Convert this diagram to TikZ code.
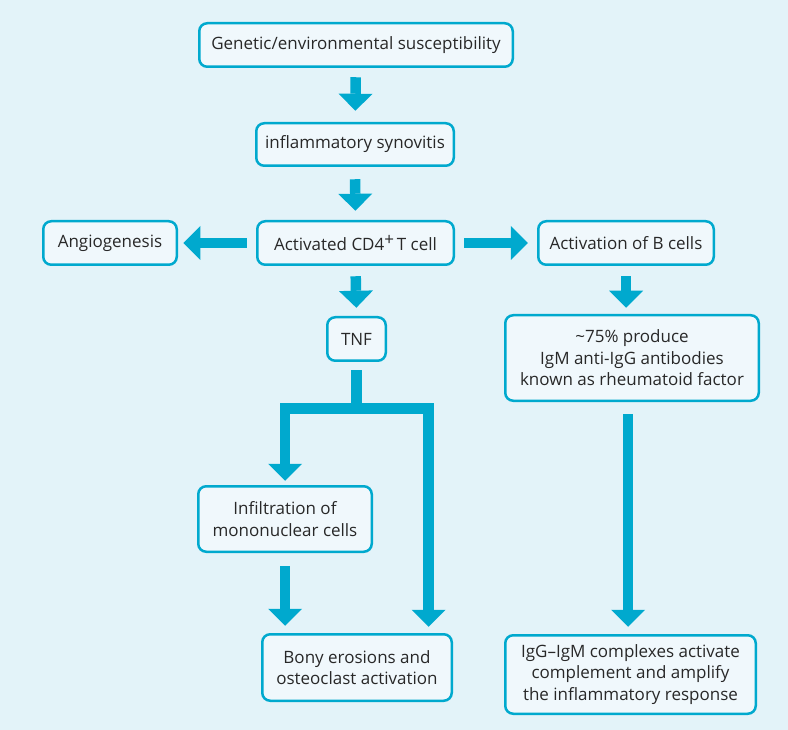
\documentclass[tikz,border=0pt]{standalone}
\usepackage{fontspec}
\setmainfont{Open Sans}
\usetikzlibrary{arrows.meta,calc}
\definecolor{bgc}{RGB}{227,243,249}
\definecolor{boxfill}{RGB}{240,248,252}
\definecolor{cyanc}{RGB}{0,169,206}
\definecolor{txt}{RGB}{40,40,40}
\begin{document}
\begin{tikzpicture}[x=1pt,y=-1pt,
  box/.style={draw=cyanc, line width=2.5pt, fill=boxfill, rounded corners=8pt,
    text=txt, align=center, inner sep=0pt, font=\fontsize{17}{21.5}\selectfont},
  bigarrow/.style={draw=cyanc, line width=10.5pt,
    -{Triangle[width=34pt,length=17pt,line width=0pt]}},
]
\fill[bgc] (0,0) rectangle (788,730);
\useasboundingbox (0,0) rectangle (788,730);

\node[box, minimum width=313.5pt, minimum height=43.5pt] (gen) at (356,45) {Genetic/environmental susceptibility};
\node[box, minimum width=197.5pt, minimum height=42.5pt] (syn) at (355,144.5) {inflammatory synovitis};
\node[box, minimum width=196.5pt, minimum height=43.5pt] (cd4) at (355.5,243) {Activated CD4\raisebox{5.5pt}{\fontsize{17}{17}\selectfont +}\,T cell};
\node[box, minimum width=133.5pt, minimum height=43.5pt] (ang) at (110,243) {Angiogenesis};
\node[box, minimum width=175.5pt, minimum height=43.5pt] (bcell) at (626,243) {Activation of B cells};
\node[box, minimum width=58.5pt, minimum height=43.5pt] (tnf) at (356.5,339) {TNF};
\node[box, minimum width=173.5pt, minimum height=65.5pt] (infil) at (285,519) {Infiltration of\\mononuclear cells};
\node[box, minimum width=189.5pt, minimum height=66.5pt] (bony) at (357,667.5) {Bony erosions and\\osteoclast activation};
\node[box, minimum width=253.5pt, minimum height=85.5pt] (rf) at (632,358) {\textasciitilde75\% produce\\IgM anti-IgG antibodies\\known as rheumatoid factor};
\node[box, minimum width=250.5pt, minimum height=78.5pt] (igg) at (630.5,674.5) {IgG--IgM complexes activate\\complement and amplify\\the inflammatory response};

\coordinate (split) at (356,408.5);

\draw[bigarrow, shorten <=9.25pt, shorten >=11.25pt] (gen) -- (syn);
\draw[bigarrow, shorten <=12.25pt, shorten >=9.25pt] (syn) -- (cd4);
\draw[bigarrow, shorten <=9.25pt, shorten >=5.25pt] (cd4.west) -- (ang.east);
\draw[bigarrow, shorten <=9.25pt, shorten >=9.25pt] (cd4.east) -- (bcell.west);
\draw[bigarrow, shorten <=10.25pt, shorten >=8.25pt] (cd4.south) -- (tnf.north);
\draw[bigarrow, shorten <=10.25pt, shorten >=6.25pt] (bcell.south) -- (bcell.south |- rf.north);
\draw[bigarrow, shorten <=12.25pt, shorten >=7.25pt] ($(rf.south)+(-4,0)$) -- ($(igg.north)+(-2.5,0)$);
\draw[bigarrow, shorten <=8.25pt, shorten >=4.25pt] (tnf.south) -- (tnf.south |- split) -| (infil.north);
\draw[bigarrow, shorten >=6.25pt] (tnf.south |- split) -| ($(bony.north)+(71.5,0)$);
\draw[bigarrow, shorten <=13.25pt, shorten >=7.25pt] (infil.south) -- (infil.south |- bony.north);
\end{tikzpicture}
\end{document}
